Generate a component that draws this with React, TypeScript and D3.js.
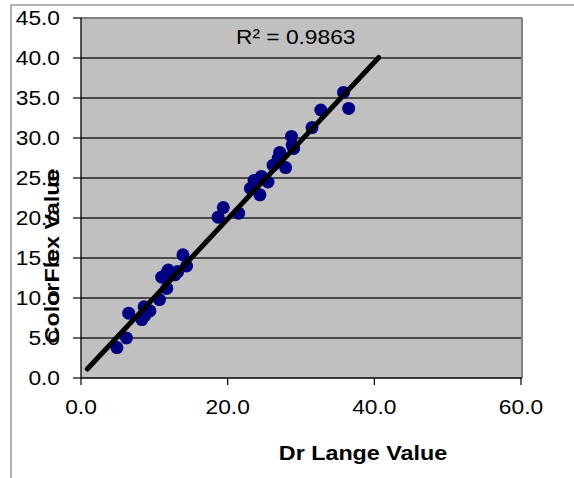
import React from "react";
import * as d3 from "d3";

const drLange = [4.9, 6.2, 6.5, 8.3, 8.7, 8.6, 9.4, 10.7, 11.7, 11.0, 11.6, 11.9, 12.8, 13.2, 13.9, 14.4, 18.7, 19.4, 21.5, 23.1, 23.6, 24.4, 24.6, 25.5, 26.2, 26.9, 27.1, 27.9, 28.7, 29.0, 28.8, 31.5, 32.7, 35.8, 36.5];
const colorFlex = [3.8, 5.0, 8.1, 7.3, 7.8, 8.9, 8.4, 9.8, 11.2, 12.6, 13.0, 13.5, 12.9, 13.3, 15.4, 14.0, 20.1, 21.3, 20.6, 23.7, 24.7, 22.9, 25.2, 24.5, 26.6, 27.5, 28.2, 26.3, 30.2, 28.7, 29.1, 31.3, 33.5, 35.7, 33.7];
const trendX = [0.86, 40.6];
const trendSlope = 0.98;
const trendIntercept = 0.28;
const xTicks = [0, 20, 40, 60];
const yTicks = [0, 5, 10, 15, 20, 25, 30, 35, 40, 45];
const r2Label = "R² = 0.9863";
const xTitle = "Dr Lange Value";
const yTitle = "ColorFlex Value";

const W = 574;
const H = 478;
const pl = 81, pr = 521, pt = 18, pb = 378;
const SX = 1.11;
const FS = 20.5;
const font = "Arial, 'Liberation Sans', sans-serif";

export default function App() {
  const x = d3.scaleLinear().domain([0, 60]).range([pl, pr]);
  const y = d3.scaleLinear().domain([0, 45]).range([pb, pt]);
  const line = d3.line<number>().x((d) => x(d)).y((d) => y(trendSlope * d + trendIntercept));
  return (
    <div style={{ position: "absolute", left: 0, top: 0 }}>
      <svg width={W} height={H} style={{ display: "block", background: "#fff" }}>
        <rect x={11} y={5} width={W} height={H} fill="#fff" stroke="#808080" strokeWidth={1.2} />
        <rect x={pl} y={pt} width={pr - pl} height={pb - pt} fill="#C0C0C0" />
        {yTicks.filter((t) => t > 0 && t < 45).map((t) => (
          <line key={"g" + t} x1={pl} x2={pr} y1={y(t)} y2={y(t)} stroke="#222" strokeWidth={1.3} />
        ))}
        <line x1={pl} x2={pr + 1} y1={pt} y2={pt} stroke="#808080" strokeWidth={2} />
        <line x1={pr + 1} x2={pr + 1} y1={pt} y2={pb} stroke="#808080" strokeWidth={2} />
        <line x1={pl} x2={pl} y1={pt} y2={pb} stroke="#000" strokeWidth={1.3} />
        <line x1={pl} x2={pr + 1} y1={pb} y2={pb} stroke="#000" strokeWidth={1.3} />
        {yTicks.map((t) => (
          <line key={"yt" + t} x1={pl - 8} x2={pl} y1={y(t)} y2={y(t)} stroke="#000" strokeWidth={1.2} />
        ))}
        {xTicks.map((t) => (
          <line key={"xt" + t} x1={x(t)} x2={x(t)} y1={pb} y2={pb + 7} stroke="#000" strokeWidth={1.2} />
        ))}
        {yTicks.map((t) => (
          <text key={"yl" + t} transform={`translate(60,${y(t)}) scale(${SX},1)`} dy="0.36em" textAnchor="end" fontFamily={font} fontSize={FS} fill="#000">
            {t.toFixed(1)}
          </text>
        ))}
        {xTicks.map((t) => (
          <text key={"xl" + t} transform={`translate(${x(t)},414) scale(${SX},1)`} textAnchor="middle" fontFamily={font} fontSize={FS} fill="#000">
            {t.toFixed(1)}
          </text>
        ))}
        {drLange.map((d, i) => (
          <circle key={"p" + i} cx={x(d)} cy={y(colorFlex[i])} r={6.5} fill="#000080" />
        ))}
        <path d={line(trendX) || ""} stroke="#000" strokeWidth={5} strokeLinecap="round" fill="none" />
        <text transform={`translate(236,44) scale(${SX},1)`} fontFamily={font} fontSize={FS} fill="#000">{r2Label}</text>
        <text transform={`translate(363,460) scale(${SX},1)`} textAnchor="middle" fontFamily={font} fontWeight="bold" fontSize={21} fill="#000">{xTitle}</text>
        <text transform={`translate(59,256) rotate(-90) scale(${SX},1)`} textAnchor="middle" fontFamily={font} fontWeight="bold" fontSize={21} fill="#000">{yTitle}</text>
      </svg>
    </div>
  );
}
